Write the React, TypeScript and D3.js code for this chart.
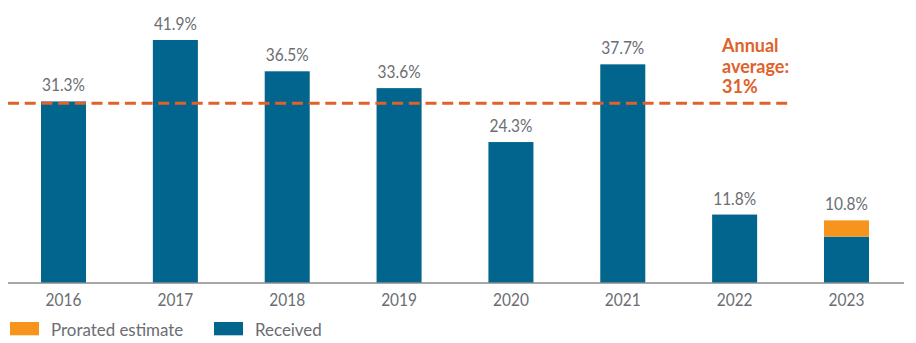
import React from "react";
import * as d3 from "d3";

const years = ["2016", "2017", "2018", "2019", "2020", "2021", "2022", "2023"];
const received = [31.3, 41.9, 36.5, 33.6, 24.3, 37.7, 11.8, 8.0];
const prorated = [0, 0, 0, 0, 0, 0, 0, 2.8];
const totalLabels = ["31.3%", "41.9%", "36.5%", "33.6%", "24.3%", "37.7%", "11.8%", "10.8%"];
const averageValue = 31;
const averageLines = ["Annual", "average:", "31%"];
const legendItems = ["Prorated estimate", "Received"];

const BLUE = "#02658d";
const ORANGE = "#f7941d";
const LINE_ORANGE = "#e0622a";
const TEXT = "#6b6d72";
const FONT = "Lato, 'Open Sans', sans-serif";

function SText(props: {
  x: number; y: number; sx: number; size: number; anchor?: string; weight?: number; fill: string; children: React.ReactNode;
}) {
  const { x, y, sx, size, anchor = "start", weight = 400, fill, children } = props;
  return (
    <text
      transform={`translate(${x},${y}) scale(${sx},1)`}
      textAnchor={anchor as any}
      fontSize={size}
      fontWeight={weight}
      fill={fill}
    >
      {children}
    </text>
  );
}

export default function App() {
  const W = 916, H = 343;
  const x = d3.scaleBand<string>().domain(years).range([41, 869]).paddingInner(0.5975).paddingOuter(0);
  const y = d3.scaleLinear().domain([0, 45]).range([283, 283 - 45 * 5.8]);
  const bw = x.bandwidth();
  const legendColors = [ORANGE, BLUE];
  const legendX = [10, 214];

  return (
    <svg width={W} height={H} style={{ position: "absolute", left: 0, top: 0, fontFamily: FONT }}>
      {years.map((yr, i) => {
        const x0 = x(yr)!;
        const total = received[i] + prorated[i];
        return (
          <g key={yr}>
            <rect x={x0} y={y(received[i])} width={bw} height={y(0) - y(received[i])} fill={BLUE} />
            {prorated[i] > 0 && (
              <rect x={x0} y={y(total)} width={bw} height={y(received[i]) - y(total)} fill={ORANGE} />
            )}
            <SText x={x0 + bw / 2} y={y(total) - 10} sx={0.86} size={18} anchor="middle" fill={TEXT}>
              {totalLabels[i]}
            </SText>
            <SText x={x0 + bw / 2} y={305.5} sx={0.86} size={18} anchor="middle" fill={TEXT}>
              {yr}
            </SText>
          </g>
        );
      })}
      <line x1={8} x2={904} y1={y(0)} y2={y(0)} stroke="#8a8a8a" strokeWidth={1.5} />
      <line x1={8} x2={792} y1={y(averageValue)} y2={y(averageValue)} stroke={LINE_ORANGE} strokeWidth={3} strokeDasharray="11 5.7" />
      {averageLines.map((t, i) => (
        <SText key={t} x={722} y={52 + i * 20.7} sx={1} size={18} weight={700} fill={LINE_ORANGE}>
          {t}
        </SText>
      ))}
      {legendItems.map((t, i) => (
        <g key={t}>
          <rect x={legendX[i]} y={322} width={29} height={13.3} fill={legendColors[i]} />
          <SText x={legendX[i] + 41} y={335.5} sx={0.94} size={18} fill={TEXT}>
            {t}
          </SText>
        </g>
      ))}
    </svg>
  );
}
